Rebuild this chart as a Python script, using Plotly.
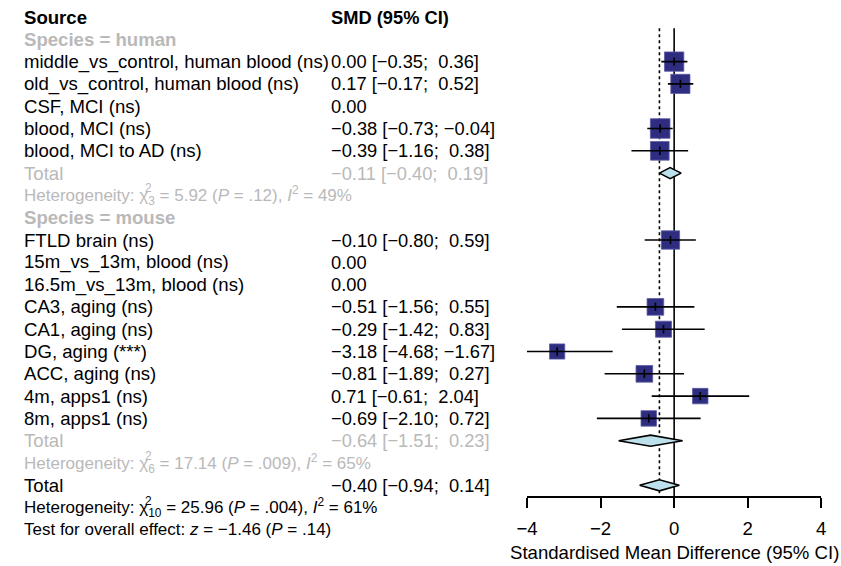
import plotly.graph_objects as go

# ---------------- data ----------------
study_labels = [
    "middle_vs_control, human blood (ns)",
    "old_vs_control, human blood (ns)",
    "CSF, MCI (ns)",
    "blood, MCI (ns)",
    "blood, MCI to AD (ns)",
    "FTLD brain (ns)",
    "15m_vs_13m, blood (ns)",
    "16.5m_vs_13m, blood (ns)",
    "CA3, aging (ns)",
    "CA1, aging (ns)",
    "DG, aging (***)",
    "ACC, aging (ns)",
    "4m, apps1 (ns)",
    "8m, apps1 (ns)",
]
study_group = ["human"] * 5 + ["mouse"] * 9
smd = [0.00, 0.17, 0.00, -0.38, -0.39, -0.10, 0.00, 0.00, -0.51, -0.29, -3.18, -0.81, 0.71, -0.69]
ci_low = [-0.35, -0.17, None, -0.73, -1.16, -0.80, None, None, -1.56, -1.42, -4.68, -1.89, -0.61, -2.10]
ci_high = [0.36, 0.52, None, -0.04, 0.38, 0.59, None, None, 0.55, 0.83, -1.67, 0.27, 2.04, 0.72]
weight = [11.6, 11.4, 0.0, 11.9, 10.8, 10.4, 0.0, 0.0, 8.6, 8.0, 7.2, 8.6, 7.4, 7.4]

groups = ["human", "mouse"]
group_smd = [-0.11, -0.64]
group_low = [-0.40, -1.51]
group_high = [0.19, 0.23]
group_chi2 = ["5.92", "17.14"]
group_df = ["3", "6"]
group_p = [".12", ".009"]
group_i2 = ["49", "65"]

overall_smd = -0.40
overall_low = -0.94
overall_high = 0.14
overall_chi2 = "25.96"
overall_df = "10"
overall_p = ".004"
overall_i2 = "61"
overall_z = "−1.46"
overall_zp = ".14"

x_ticks = [-4, -2, 0, 2, 4]
x_tick_labels = ["−4", "−2", "0", "2", "4"]
x_title = "Standardised Mean Difference (95% CI)"

# ---------------- styling ----------------
W, H = 841, 566
FONT = "Liberation Sans, Arial, Helvetica, sans-serif"
FS = 18.6
FS_EST = 18.3
FS_HET = 17
GREY = "#B9B9B9"
NAVY = "#2E2D80"
DIAMOND = "#BCE0EC"
ROW0_PX = 17.0
ROW_PX = 22.3
AXIS_PX = 497.0
LABEL_PX = 11          # annotation box pad (~2px) puts text start at ~13px
EST_PX = 324
CHI_END_PX = 13 + 7.28 * FS_HET   # approx. end of "Heterogeneity: χ"


def fmt(v):
    return f"{v:.2f}".replace("-", "−")


def ci_text(e, lo, hi):
    if lo is None:
        return fmt(e)
    sep = ";  " if hi >= 0 else "; "
    return f"{fmt(e)} [{fmt(lo)}{sep}{fmt(hi)}]"


def het_text(chi, df, p, i2):
    return (f"Heterogeneity: χ<sub>{df}</sub> = {chi} "
            f"(<i>P</i> = {p}), <i>I</i><sup>2</sup> = {i2}%")


# ---------------- build rows ----------------
rows = []  # (row, label, est, color, label_size, is_het)
annotations = []
study_rows = []
total_rows = []
r = 0
rows.append((r, "<b>Source</b>", "<b>SMD (95% CI)</b>", "black", FS, False))
r += 1
for gi, g in enumerate(groups):
    rows.append((r, f"<b>Species = {g}</b>", "", GREY, FS, False))
    r += 1
    for i, lab in enumerate(study_labels):
        if study_group[i] != g:
            continue
        rows.append((r, lab, ci_text(smd[i], ci_low[i], ci_high[i]), "black", FS, False))
        study_rows.append((r, i))
        r += 1
    rows.append((r, "Total", ci_text(group_smd[gi], group_low[gi], group_high[gi]), GREY, FS, False))
    total_rows.append((r, group_smd[gi], group_low[gi], group_high[gi]))
    r += 1
    rows.append((r, het_text(group_chi2[gi], group_df[gi], group_p[gi], group_i2[gi]), "", GREY,
                 FS_HET, True))
    r += 1
rows.append((r, "Total", ci_text(overall_smd, overall_low, overall_high), "black", FS, False))
total_rows.append((r, overall_smd, overall_low, overall_high))
r += 1
rows.append((r, het_text(overall_chi2, overall_df, overall_p, overall_i2), "", "black", FS_HET, True))
r += 1
rows.append((r, f"Test for overall effect: <i>z</i> = {overall_z} (<i>P</i> = {overall_zp})", "",
             "black", FS_HET, False))

for row, lab, est_txt, col, fs, is_het in rows:
    annotations.append(dict(x=LABEL_PX / W, y=row, xref="paper", yref="y", text=lab,
                            showarrow=False, xanchor="left", yanchor="middle",
                            font=dict(family=FONT, size=fs, color=col)))
    if is_het:
        # superscript 2 of chi, stacked above the df subscript
        annotations.append(dict(x=(CHI_END_PX - 2) / W, y=row, xref="paper", yref="y", text="2",
                                showarrow=False, xanchor="left", yanchor="middle", yshift=7,
                                font=dict(family=FONT, size=fs * 0.7, color=col)))
    if est_txt:
        annotations.append(dict(x=EST_PX / W, y=row, xref="paper", yref="y", text=est_txt,
                                showarrow=False, xanchor="left", yanchor="middle",
                                font=dict(family=FONT, size=FS_EST, color=col)))

annotations.append(dict(x=676 / W, y=(H - 552) / H, xref="paper", yref="paper", text=x_title,
                        showarrow=False, xanchor="center", yanchor="middle",
                        font=dict(family=FONT, size=FS, color="black")))

r_top = -ROW0_PX / ROW_PX
r_bottom = r_top + H / ROW_PX
axis_row = (AXIS_PX - ROW0_PX) / ROW_PX

fig = go.Figure()

# reference lines
fig.add_trace(go.Scatter(x=[0, 0], y=[0.5, axis_row], mode="lines",
                         line=dict(color="black", width=1.6), hoverinfo="skip"))
fig.add_trace(go.Scatter(x=[overall_smd, overall_smd], y=[0.5, axis_row], mode="lines",
                         line=dict(color="black", width=1.6, dash="dot"), hoverinfo="skip"))

# squares
sq_x, sq_y, sq_s = [], [], []
for row, i in study_rows:
    if ci_low[i] is None or weight[i] <= 0:
        continue
    sq_x.append(smd[i])
    sq_y.append(row)
    sq_s.append(5.68 * weight[i] ** 0.5)
fig.add_trace(go.Scatter(x=sq_x, y=sq_y, mode="markers",
                         marker=dict(symbol="square", size=sq_s, color=NAVY, opacity=1,
                                     line=dict(color="#5C5BA6", width=0.8)),
                         hoverinfo="skip"))

# CI lines
lx, ly = [], []
for row, i in study_rows:
    if ci_low[i] is None:
        continue
    lx += [ci_low[i], ci_high[i], None]
    ly += [row, row, None]
fig.add_trace(go.Scatter(x=lx, y=ly, mode="lines", line=dict(color="black", width=1.6),
                         hoverinfo="skip"))
fig.add_trace(go.Scatter(x=sq_x, y=sq_y, mode="markers",
                         marker=dict(symbol="line-ns", size=6, opacity=1,
                                     line=dict(color="black", width=1.6)),
                         hoverinfo="skip"))

# diamonds
hh = 0.25
for row, e, lo, hi in total_rows:
    fig.add_trace(go.Scatter(x=[lo, e, hi, e, lo], y=[row, row - hh, row, row + hh, row],
                             mode="lines", fill="toself", fillcolor=DIAMOND,
                             line=dict(color="black", width=1.6), hoverinfo="skip"))

fig.update_layout(
    width=W, height=H,
    margin=dict(l=0, r=0, t=0, b=0),
    paper_bgcolor="white", plot_bgcolor="white",
    showlegend=False,
    annotations=annotations,
    font=dict(family=FONT, size=FS, color="black"),
    xaxis=dict(domain=[526 / W, 826 / W], range=[-4, 4], anchor="free",
               position=(H - AXIS_PX) / H,
               showgrid=False, zeroline=False, showline=True, linecolor="black",
               linewidth=1.6, ticks="outside", ticklen=10, tickwidth=1.6, tickcolor="black",
               ticklabelstandoff=5,
               tickvals=x_ticks, ticktext=x_tick_labels,
               tickfont=dict(family=FONT, size=FS, color="black")),
    yaxis=dict(domain=[0, 1], range=[r_bottom, r_top], showgrid=False, zeroline=False,
               showline=False, showticklabels=False, ticks=""),
)

fig.write_html("out.html")
